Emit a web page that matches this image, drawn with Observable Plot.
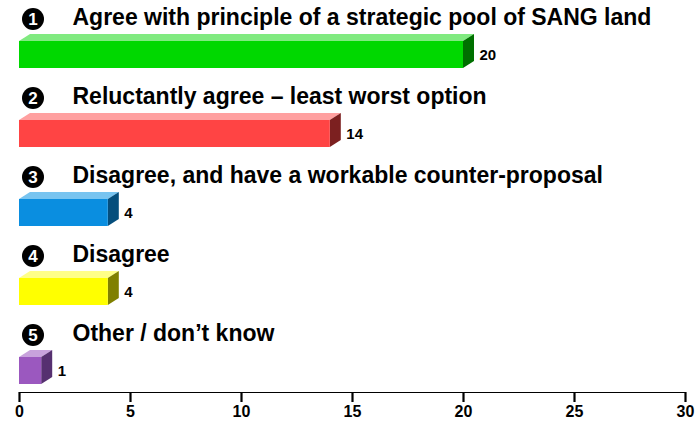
<!DOCTYPE html>
<html>
<head>
<meta charset="utf-8">
<script src="https://cdn.jsdelivr.net/npm/d3@7"></script>
<script src="https://cdn.jsdelivr.net/npm/@observablehq/plot@0.6"></script>
<style>
  html, body { margin: 0; padding: 0; background: #fff; }
  #chart svg { display: block; }
  #chart g[aria-label*="axis"] line,
  #chart g[aria-label*="axis"] path { stroke-width: 2.2px !important; stroke: #000 !important; }
  #chart g[aria-label*="axis"] text { font-size: 16px !important; font-weight: bold !important; fill: #000 !important; }
</style>
</head>
<body>
<div id="chart"></div>
<script>
// ---- data ----
const categories = [
  "Agree with principle of a strategic pool of SANG land",
  "Reluctantly agree – least worst option",
  "Disagree, and have a workable counter-proposal",
  "Disagree",
  "Other / don’t know"
];
const values = [20, 14, 4, 4, 1];
const numbers = ["1", "2", "3", "4", "5"];
const xTicks = [0, 5, 10, 15, 20, 25, 30];

// ---- styles ----
const frontColors = ["#00d800", "#ff4444", "#0a8ee0", "#ffff00", "#9b58bf"];
const topColors   = ["#80ea80", "#ffa0a0", "#78c4f0", "#ffff88", "#c8a2dc"];
const sideColors  = ["#007000", "#7c2020", "#054e7c", "#808000", "#563070"];

const data = categories.map((cat, i) => ({
  cat, value: values[i], num: numbers[i],
  front: frontColors[i], top: topColors[i], side: sideColors[i]
}));

const INSET = 26, DX = 11, DY = 7;

function depthFaces(index, scales) {
  const x = scales.x, y = scales.y;
  const bw = y.bandwidth ? y.bandwidth() : 79;
  const g = d3.create("svg:g").attr("aria-label", "bar depth");
  data.forEach(d => {
    const x0 = x(0), x1 = x(d.value);
    const top = y(d.cat) + INSET, bottom = y(d.cat) + bw - INSET;
    g.append("path")
      .attr("d", `M${x0},${top}L${x1},${top}L${x1 + DX},${top - DY}L${x0 + DX},${top - DY}Z`)
      .attr("fill", d.top);
    g.append("path")
      .attr("d", `M${x1},${top}L${x1 + DX},${top - DY}L${x1 + DX},${bottom - DY}L${x1},${bottom}Z`)
      .attr("fill", d.side);
  });
  return g.node();
}

const chart = Plot.plot({
  width: 700,
  height: 424,
  marginLeft: 19,
  marginRight: 15,
  marginTop: 0,
  marginBottom: 32,
  style: {fontFamily: "Arial, 'Liberation Sans', sans-serif", fontSize: "16px", fontWeight: "bold", color: "#000", background: "#fff"},
  x: {domain: [0, 30], ticks: xTicks, tickSize: 10, tickPadding: 3, line: true, label: null, tickFormat: d => String(d)},
  y: {type: "band", domain: categories, range: [14.5, 409.5], padding: 0, axis: null},
  color: {type: "identity"},
  marks: [
    depthFaces,
    Plot.barX(data, {x: "value", y: "cat", fill: "front", insetTop: INSET, insetBottom: INSET}),
    Plot.text(data, {x: "value", y: "cat", text: d => String(d.value), dx: 16, dy: 0, textAnchor: "start", fontSize: 15, fontWeight: "bold", fill: "#000"}),
    Plot.dot(data, {x: d => 0, y: "cat", dx: 13.5, dy: -36, r: 11, fill: "#000", stroke: null}),
    Plot.text(data, {x: d => 0, y: "cat", text: "num", dx: 13.5, dy: -35.5, fontSize: 17, fontWeight: "bold", fill: "#fff"}),
    Plot.text(data, {x: d => 0, y: "cat", text: "cat", dx: 53, dy: -37.5, textAnchor: "start", fontSize: 23, fontWeight: "bold", fill: "#000"})
  ]
});
document.getElementById("chart").appendChild(chart);
</script>
</body>
</html>
